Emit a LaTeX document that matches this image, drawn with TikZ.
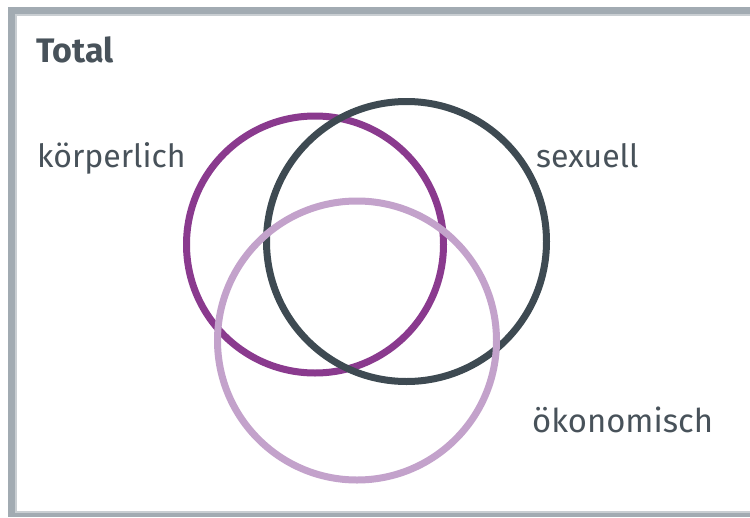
\documentclass[tikz,border=0pt]{standalone}
\usepackage{fontspec}
\setmainfont{Fira Sans}
\definecolor{framegray}{HTML}{A2ABB2}
\definecolor{frameinner}{HTML}{C9CED2}
\definecolor{txtgray}{HTML}{48525A}
\definecolor{purpc}{HTML}{8A3A8E}
\definecolor{darkc}{HTML}{3E4A52}
\definecolor{lightc}{HTML}{C3A2CB}
\tikzset{
  lbl/.style={anchor=base west, inner sep=0pt, text=txtgray, font=\fontsize{32}{36}\selectfont},
  ring/.style={line width=7pt}
}
\begin{document}
\begin{tikzpicture}[x=1pt,y=-1pt]
\useasboundingbox (0,0) rectangle (750,517);
\fill[white] (0,0) rectangle (750,517);
\fill[framegray] (8,7) rectangle (750,517);
\fill[frameinner] (15,14) rectangle (750,513);
\fill[white] (17,16) rectangle (750,511);
\node[lbl, font=\fontsize{34}{38}\selectfont\bfseries] (total) at (36,62) {Total};
\node[lbl] (koerper) at (37,167) {körperlich};
\node[lbl] (sex) at (536,167) {sexuell};
\node[lbl, font=\fontsize{32.8}{36}\selectfont] (oeko) at (532,432) {ökonomisch};
\draw[ring, purpc] (315,244.5) circle (128.5);
\draw[ring, darkc] (406.5,241.5) circle (140);
\draw[ring, lightc] (357,340.5) circle (139.5);
\end{tikzpicture}
\end{document}
